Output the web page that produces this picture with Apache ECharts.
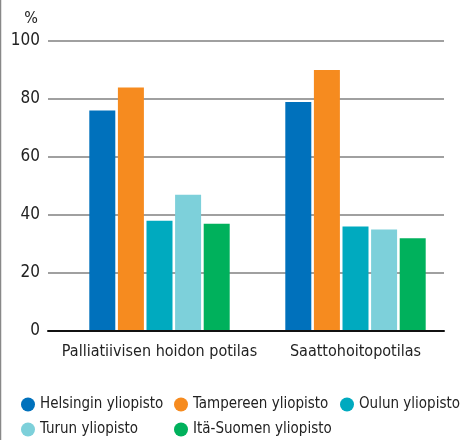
<!DOCTYPE html>
<html>
<head>
<meta charset="utf-8">
<script src="https://cdn.jsdelivr.net/npm/echarts@6/dist/echarts.min.js"></script>
<style>
  html, body { margin: 0; padding: 0; background: #fff; }
  #chart { width: 461px; height: 440px; }
</style>
</head>
<body>
<div id="chart"></div>
<script>
  const categories = ['Palliatiivisen hoidon potilas', 'Saattohoitopotilas']
  const helsinki = [76, 79]
  const tampere = [84, 90]
  const oulu = [38, 36]
  const turku = [47, 35]
  const itaSuomi = [37, 32]
  const yTicks = [0, 20, 40, 60, 80, 100]

  const font = '"Liberation Sans Narrow", "DejaVu Sans Condensed", sans-serif'
  const colors = ['#0071bc', '#f68b1f', '#00aabf', '#7dd0da', '#00b15c']
  const names = ['Helsingin yliopisto', 'Tampereen yliopisto', 'Oulun yliopisto', 'Turun yliopisto', 'Itä-Suomen yliopisto']
  const values = [helsinki, tampere, oulu, turku, itaSuomi]
  // legend slots: [left, top] for each series, laid out in columns like the original
  const legendSlots = [[21, 397], [174, 397], [340, 397], [21, 422], [174, 422]]

  const option = {
    animation: false,
    color: colors,
    grid: [
      { left: 48, right: 17, top: 41, bottom: 109 },
      { left: 61.5, right: 7.5, top: 41, bottom: 109 }
    ],
    legend: names.map((name, i) => ({
      data: [name],
      left: legendSlots[i][0],
      top: legendSlots[i][1],
      padding: 0,
      icon: 'circle',
      itemWidth: 14,
      itemHeight: 14,
      textStyle: { fontFamily: font, fontSize: 15, color: '#222' }
    })),
    graphic: [
      { type: 'line', shape: { x1: 0.5, y1: 0, x2: 0.5, y2: 440 }, style: { stroke: '#888', lineWidth: 1.5 } }
    ],
    xAxis: [
      {
        gridIndex: 0,
        type: 'category',
        data: categories,
        z: 5,
        axisLine: { lineStyle: { color: '#111', width: 2 } },
        axisTick: { show: false },
        axisLabel: { show: false }
      },
      {
        gridIndex: 1,
        type: 'category',
        data: categories,
        axisLine: { show: false },
        axisTick: { show: false },
        axisLabel: { interval: 0, fontFamily: font, fontSize: 16, color: '#222', margin: 13 }
      }
    ],
    yAxis: [
      {
        gridIndex: 0,
        type: 'value',
        min: yTicks[0],
        max: yTicks[yTicks.length - 1],
        interval: 20,
        name: '%',
        nameGap: 14,
        nameTextStyle: { fontFamily: font, fontSize: 16, color: '#222', align: 'right', padding: [0, 10, 0, 0] },
        axisLine: { show: false },
        axisTick: { show: false },
        axisLabel: { fontFamily: font, fontSize: 17, color: '#222', margin: 8 },
        splitLine: { lineStyle: { color: '#808080', width: 1.5 } }
      },
      {
        gridIndex: 1,
        type: 'value',
        min: yTicks[0],
        max: yTicks[yTicks.length - 1],
        show: false,
        splitLine: { show: false }
      }
    ],
    series: names.map((name, i) => ({
      name: name,
      type: 'bar',
      xAxisIndex: 1,
      yAxisIndex: 1,
      barWidth: 26,
      barGap: '10%',
      data: values[i]
    }))
  }

  const chart = echarts.init(document.getElementById('chart'))
  chart.setOption(option)
  window.addEventListener('resize', () => chart.resize())
</script>
</body>
</html>
